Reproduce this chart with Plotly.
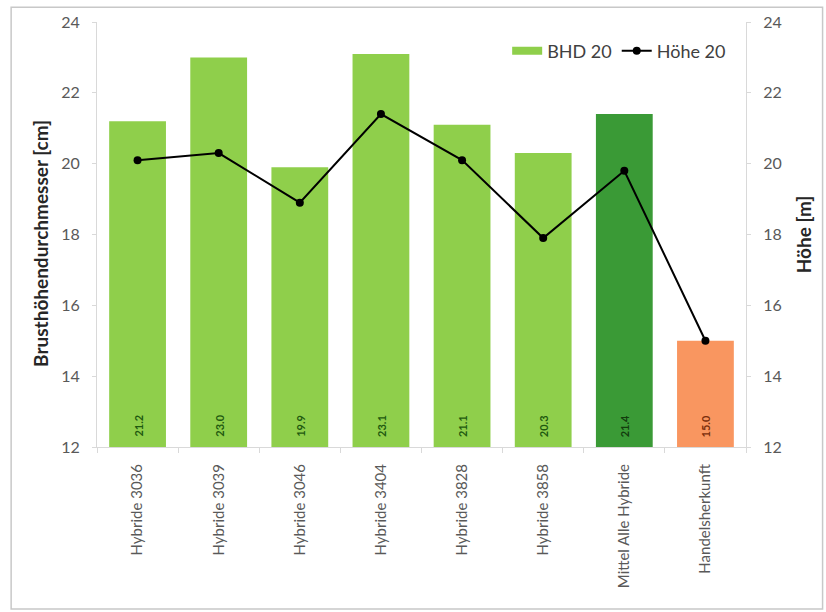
import plotly.graph_objects as go

# Data
categories = [
    "Hybride 3036", "Hybride 3039", "Hybride 3046", "Hybride 3404",
    "Hybride 3828", "Hybride 3858", "Mittel Alle Hybride", "Handelsherkunft",
]
bhd_20 = [21.2, 23.0, 19.9, 23.1, 21.1, 20.3, 21.4, 15.0]
hoehe_20 = [20.1, 20.3, 18.9, 21.4, 20.1, 17.9, 19.8, 15.0]
y_ticks = [12, 14, 16, 18, 20, 22, 24]
y_min, y_max = 12, 24

# Styling
LIGHT_GREEN = "#8FCF4B"
DARK_GREEN = "#3A9A36"
ORANGE = "#F99660"
bar_colors = [LIGHT_GREEN] * 6 + [DARK_GREEN, ORANGE]
label_colors = ["#1F5A10"] * 6 + ["#133D0E", "#7A2E0C"]
AXIS_GRAY = "#D9D9D9"
TEXT_GRAY = "#595959"
FONT = "Lato, 'Open Sans', sans-serif"

fig = go.Figure()

# Diameter bars, starting at the axis minimum
fig.add_trace(go.Bar(
    x=categories,
    y=[v - y_min for v in bhd_20],
    base=y_min,
    name="BHD 20",
    marker=dict(color=bar_colors, line=dict(width=0)),
    showlegend=False,
    hoverinfo="skip",
))

# Legend entry for the bars, drawn as a wide swatch
fig.add_trace(go.Scatter(
    x=[None], y=[None],
    name="BHD 20",
    mode="lines",
    line=dict(color=LIGHT_GREEN, width=8),
))

# Height line on the secondary axis
fig.add_trace(go.Scatter(
    x=categories,
    y=hoehe_20,
    name="Höhe 20",
    yaxis="y2",
    mode="lines+markers",
    line=dict(color="black", width=2),
    marker=dict(color="black", size=8),
))

# Value labels at the foot of each bar
value_labels = [
    dict(x=c, y=y_min, xref="x", yref="y", text=f"<b>{v:.1f}</b>",
         textangle=-90, showarrow=False, yanchor="bottom", yshift=8,
         font=dict(size=11, color=col, family=FONT))
    for c, v, col in zip(categories, bhd_20, label_colors)
]

axis_common = dict(
    range=[y_min, y_max],
    tickvals=y_ticks,
    showgrid=False,
    zeroline=False,
    showline=True,
    linecolor=AXIS_GRAY,
    linewidth=1,
    ticks="outside",
    ticklen=4,
    tickcolor=AXIS_GRAY,
    ticklabelstandoff=9,
    tickfont=dict(size=16, color=TEXT_GRAY, family=FONT),
)

fig.update_layout(
    width=826,
    height=612,
    paper_bgcolor="white",
    plot_bgcolor="white",
    margin=dict(l=97, r=80, t=19, b=165),
    bargap=0.3,
    showlegend=True,
    legend=dict(
        orientation="h",
        x=0.632, y=0.975,
        xanchor="left", yanchor="top",
        font=dict(size=18, color="#404040", family=FONT),
        bgcolor="rgba(0,0,0,0)",
        itemwidth=30,
        tracegroupgap=0,
    ),
    xaxis=dict(
        type="category",
        showgrid=False,
        showline=True,
        linecolor=AXIS_GRAY,
        ticks="outside",
        tickson="boundaries",
        ticklen=5,
        tickcolor=AXIS_GRAY,
        tickangle=-90,
        ticklabelstandoff=10,
        tickfont=dict(size=15, color=TEXT_GRAY, family=FONT),
    ),
    yaxis=dict(**axis_common),
    yaxis2=dict(**axis_common, overlaying="y", side="right"),
    annotations=value_labels + [
        dict(text="<b>Brusthöhendurchmesser [cm]</b>", xref="paper", yref="paper",
             x=-0.088, y=0.48, xanchor="center", yanchor="middle",
             textangle=-90, showarrow=False,
             font=dict(size=19, color="#262626", family=FONT)),
        dict(text="<b>Höhe [m]</b>", xref="paper", yref="paper",
             x=1.089, y=0.5, xanchor="center", yanchor="middle",
             textangle=-90, showarrow=False,
             font=dict(size=19, color="#262626", family=FONT)),
    ],
    shapes=[
        dict(type="rect", xref="paper", yref="paper",
             x0=-0.1323, x1=1.118, y0=-0.381, y1=1.035,
             line=dict(color="#C8C8C8", width=1.5), layer="below"),
    ],
)

fig.write_html("out.html")
